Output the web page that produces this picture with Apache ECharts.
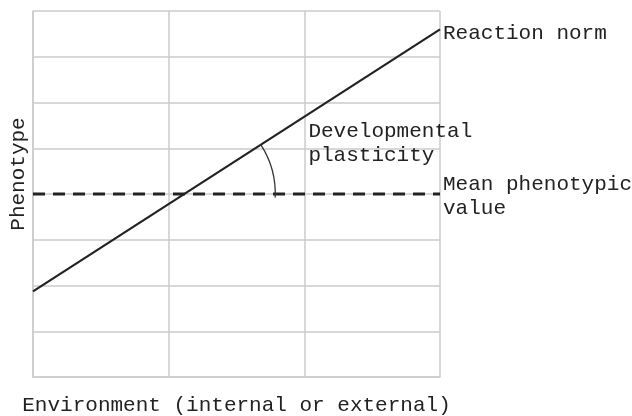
<!DOCTYPE html>
<html>
<head>
<meta charset="utf-8">
<script src="https://cdn.jsdelivr.net/npm/echarts@6/dist/echarts.min.js"></script>
<style>
  html, body { margin: 0; padding: 0; background: #fff; }
  #chart { width: 632px; height: 416px; }
</style>
</head>
<body>
<div id="chart"></div>
<script>
// environment range (x) and phenotype values at both ends (y)
const environment = [0, 3];
const reactionNorm = [1.87, 7.6];
const meanPhenotype = [4, 4];

const xTicks = { min: 0, max: 3, interval: 1 };
const yTicks = { min: 0, max: 8, interval: 1 };

const reactionLabel = 'Reaction norm';
const meanLabel = 'Mean phenotypic\nvalue';
const plasticityLabel = 'Developmental\nplasticity';
const plasticityAnchor = [2.03, 5.62];
const xName = 'Environment (internal or external)';
const yName = 'Phenotype';

const font = "'Liberation Mono', 'DejaVu Sans Mono', monospace";
const ink = '#222';
const gridColor = '#cbcbcb';

const chart = echarts.init(document.getElementById('chart'));

let axisStyle = {
    axisLine: { show: true, lineStyle: { color: gridColor, width: 1.5 } },
    axisTick: { show: false },
    axisLabel: { show: false },
    splitLine: { show: true, lineStyle: { color: gridColor, width: 1.5 } }
};

let option = {
    animation: false,
    grid: { left: 33, right: 192, top: 11, bottom: 39, outerBoundsMode: 'none' },
    xAxis: Object.assign({
        type: 'value',
        min: xTicks.min,
        max: xTicks.max,
        interval: xTicks.interval,
        name: xName,
        nameLocation: 'middle',
        nameGap: 18,
        nameTextStyle: { fontFamily: font, fontSize: 21, color: ink }
    }, axisStyle),
    yAxis: Object.assign({
        type: 'value',
        min: yTicks.min,
        max: yTicks.max,
        interval: yTicks.interval,
        name: yName,
        nameLocation: 'middle',
        nameGap: 4,
        nameTextStyle: { fontFamily: font, fontSize: 21, color: ink, padding: [0, 0, 0, 40] }
    }, axisStyle),
    series: [
        {
            name: 'reaction',
            type: 'line',
            symbol: 'none',
            data: environment.map((x, i) => [x, reactionNorm[i]]),
            lineStyle: { color: ink, width: 2.2 },
            endLabel: {
                show: true,
                formatter: reactionLabel,
                distance: 3,
                offset: [0, 4],
                fontFamily: font,
                fontSize: 21,
                color: ink
            },
            z: 3
        },
        {
            name: 'mean',
            type: 'line',
            symbol: 'none',
            data: environment.map((x, i) => [x, meanPhenotype[i]]),
            lineStyle: { color: ink, width: 3, type: [12, 8] },
            endLabel: {
                show: true,
                formatter: meanLabel,
                distance: 3,
                offset: [0, 2],
                fontFamily: font,
                fontSize: 21,
                lineHeight: 24,
                color: ink
            },
            z: 2
        }
    ]
};

chart.setOption(option);

// arc between the reaction norm and the mean line, centred where they cross
let slope = (reactionNorm[1] - reactionNorm[0]) / (environment[1] - environment[0]);
let crossX = environment[0] + (meanPhenotype[0] - reactionNorm[0]) / slope;
let c = chart.convertToPixel({ gridIndex: 0 }, [crossX, meanPhenotype[0]]);
let p0 = chart.convertToPixel({ gridIndex: 0 }, [environment[0], reactionNorm[0]]);
let p1 = chart.convertToPixel({ gridIndex: 0 }, [environment[1], reactionNorm[1]]);
let lineAngle = Math.atan2(p1[1] - p0[1], p1[0] - p0[0]);
let txt = chart.convertToPixel({ gridIndex: 0 }, plasticityAnchor);

chart.setOption({
    graphic: [
        {
            type: 'arc',
            shape: { cx: c[0], cy: c[1], r: 91, startAngle: lineAngle, endAngle: 0.04, clockwise: true },
            style: { stroke: '#333', fill: null, lineWidth: 1.3 },
            z: 10
        },
        {
            type: 'text',
            x: txt[0],
            y: txt[1],
            style: {
                text: plasticityLabel,
                font: '21px ' + font,
                fill: ink,
                lineHeight: 24,
                verticalAlign: 'top'
            },
            z: 10
        }
    ]
});
</script>
</body>
</html>
